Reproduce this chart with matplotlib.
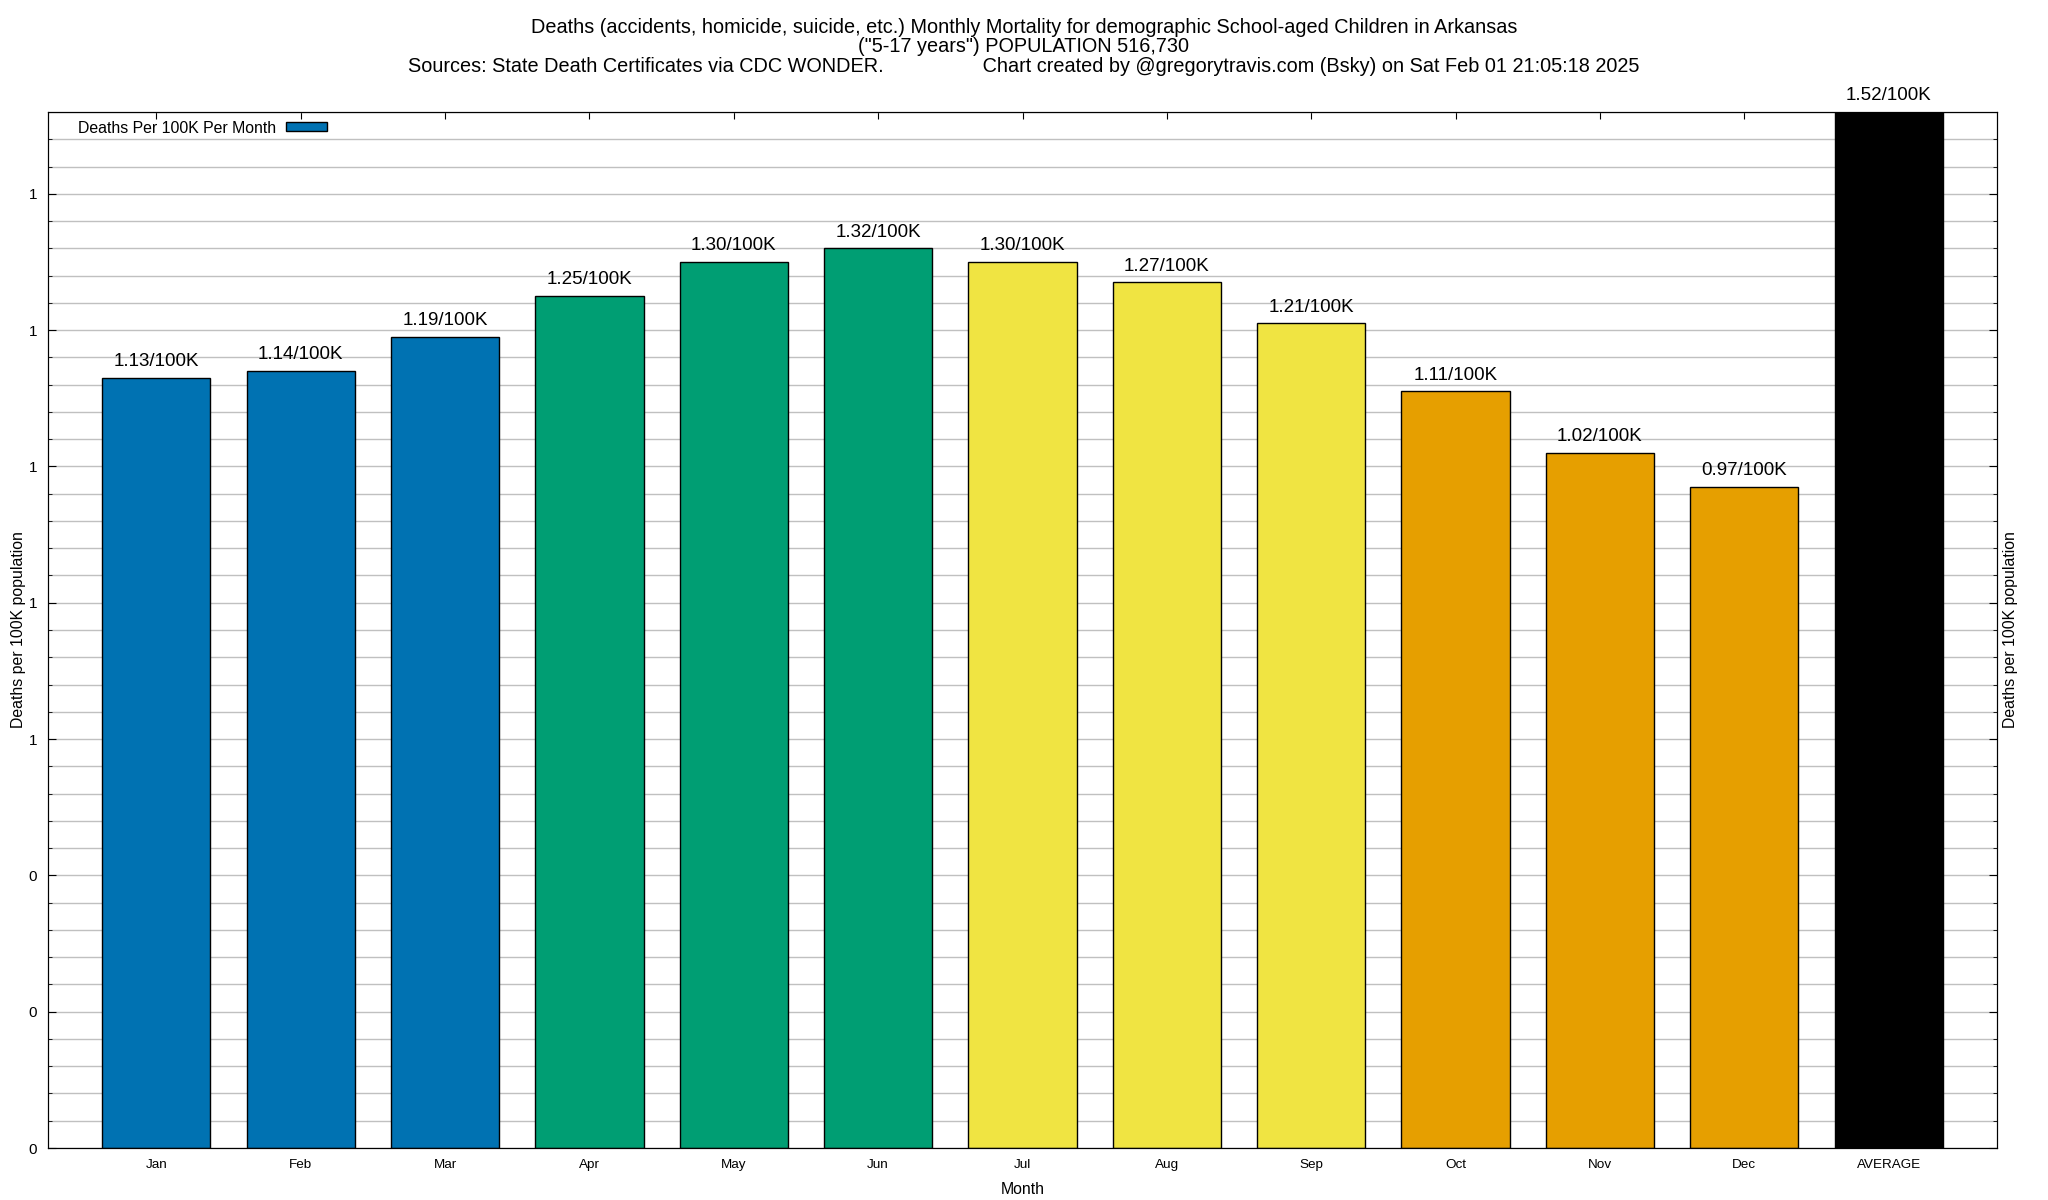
import matplotlib
matplotlib.use("Agg")
import matplotlib.pyplot as plt
from matplotlib.patches import Patch
from matplotlib.ticker import MultipleLocator, FormatStrFormatter

plt.rcParams['font.family'] = ['Liberation Sans', 'DejaVu Sans']

months = ['Jan', 'Feb', 'Mar', 'Apr', 'May', 'Jun', 'Jul', 'Aug', 'Sep',
          'Oct', 'Nov', 'Dec', 'AVERAGE']
rates = [1.13, 1.14, 1.19, 1.25, 1.30, 1.32, 1.30, 1.27, 1.21, 1.11, 1.02, 0.97, 1.52]
# winter blue, spring green, summer yellow, autumn orange, average black
season_colors = ['#0072B2'] * 3 + ['#009E73'] * 3 + ['#F0E442'] * 3 + ['#E69F00'] * 3 + ['#000000']

title_lines = [
    'Deaths (accidents, homicide, suicide, etc.) Monthly Mortality for demographic School-aged Children in Arkansas',
    '("5-17 years") POPULATION 516,730',
    'Sources: State Death Certificates via CDC WONDER.' + ' ' * 18
    + 'Chart created by @gregorytravis.com (Bsky) on Sat Feb 01 21:05:18 2025',
]

fig = plt.figure(figsize=(20.48, 12), dpi=100)
ax = fig.add_axes([48 / 2048, 52 / 1200, 1949 / 2048, 1036 / 1200])

x = list(range(len(months)))
ax.bar(x, rates, width=0.75, color=season_colors, edgecolor='black', linewidth=1, zorder=2)
for xi, r in zip(x, rates):
    ax.annotate(f'{r:.2f}/100K', (xi, r), xytext=(0, 5.5), textcoords='offset points',
                ha='center', va='bottom', fontsize=13.5, annotation_clip=False)

ax.set_xlim(-0.75, len(months) - 0.25)
ax.set_ylim(0, max(rates))
ax.set_xticks(x)
ax.set_xticklabels(months, fontsize=9.7)
ax.yaxis.set_major_locator(MultipleLocator(0.2))
ax.yaxis.set_minor_locator(MultipleLocator(0.04))
ax.yaxis.set_major_formatter(FormatStrFormatter('%.0f'))
ax.tick_params(axis='y', which='both', direction='in', labelsize=11, pad=8)
ax.tick_params(axis='y', which='major', length=6)
ax.tick_params(axis='y', which='minor', length=3)
ax.tick_params(axis='x', direction='in', length=5, top=True, pad=8)
ax.grid(True, axis='y', which='both', color='#c0c0c0', linewidth=1)
ax.set_axisbelow(True)
ax.set_ylabel('Deaths per 100K population', fontsize=11.4, labelpad=2)
ax.set_xlabel('Month', fontsize=11.4, labelpad=8)

ax2 = ax.twinx()
ax2.set_ylim(ax.get_ylim())
ax2.yaxis.set_major_locator(MultipleLocator(0.2))
ax2.yaxis.set_minor_locator(MultipleLocator(0.04))
ax2.tick_params(axis='y', which='both', direction='in', labelright=False)
ax2.tick_params(axis='y', which='major', length=6)
ax2.tick_params(axis='y', which='minor', length=3)
ax2.set_ylabel('Deaths per 100K population', fontsize=11.4, labelpad=4)

ax.legend([Patch(facecolor='#0072B2', edgecolor='black')], ['Deaths Per 100K Per Month'],
          loc='upper left', bbox_to_anchor=(0.009, 1.004), markerfirst=False, frameon=False,
          fontsize=11.4, handlelength=2.6, handleheight=0.5, borderaxespad=0.4, handletextpad=0.6)

for i, line in enumerate(title_lines):
    fig.text(0.5, 1 - (27.5 + 19.5 * i) / 1200, line, ha='center', va='center', fontsize=14.3)

fig.savefig('out.png', dpi=100)
